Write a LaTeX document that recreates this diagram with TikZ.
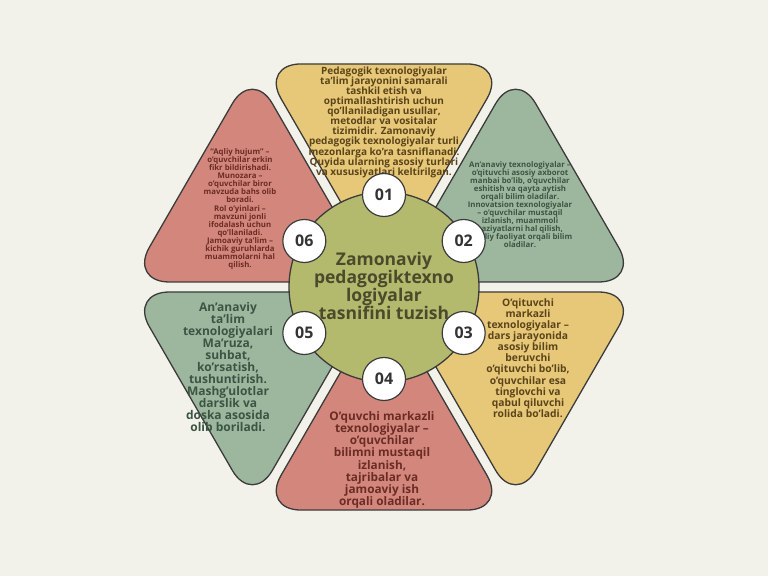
\documentclass[tikz,border=0pt]{standalone}
\usepackage{fontspec}
\setmainfont{Open Sans}
\usetikzlibrary{calc}
\definecolor{bg}{HTML}{F3F2EA}
\definecolor{cyel}{HTML}{E6C878}
\definecolor{cgrn}{HTML}{9DB79F}
\definecolor{cred}{HTML}{D3877C}
\definecolor{colv}{HTML}{B3B96D}
\definecolor{edge}{HTML}{3B3B3B}
\definecolor{tyel}{HTML}{5B4419}
\definecolor{tgrn}{HTML}{3C5443}
\definecolor{tred}{HTML}{6B2C24}
\definecolor{tolv}{HTML}{4A4B2B}
\definecolor{tnum}{HTML}{333333}
\begin{document}
\begin{tikzpicture}[x=1pt,y=1pt,
  tri/.style={draw=edge, line width=1.3pt, rounded corners=40pt, line join=round},
  numc/.style={circle, draw=edge, line width=1.2pt, fill=white, minimum size=43pt, inner sep=0pt, text=tnum, font=\bfseries\fontsize{16}{16}\selectfont},
  txt/.style={align=center, inner sep=0pt, font=\bfseries}]
\path[fill=bg] (0,0) rectangle (768,576);
\useasboundingbox (0,0) rectangle (768,576);
\coordinate (O) at (384,289);
% triangles: apex near centre, two outer vertices
\path[tri, fill=cyel] ($(O)+(90:10)$) -- ($(O)+(90:10)+(60:246)$) -- ($(O)+(90:10)+(120:246)$) -- cycle;
\path[tri, fill=cgrn] ($(O)+(30:10)$) -- ($(O)+(30:10)+(0:246)$) -- ($(O)+(30:10)+(60:246)$) -- cycle;
\path[tri, fill=cyel] ($(O)+(-30:10)$) -- ($(O)+(-30:10)+(-60:246)$) -- ($(O)+(-30:10)+(0:246)$) -- cycle;
\path[tri, fill=cred] ($(O)+(-90:10)$) -- ($(O)+(-90:10)+(-120:246)$) -- ($(O)+(-90:10)+(-60:246)$) -- cycle;
\path[tri, fill=cgrn] ($(O)+(210:10)$) -- ($(O)+(210:10)+(180:246)$) -- ($(O)+(210:10)+(240:246)$) -- cycle;
\path[tri, fill=cred] ($(O)+(150:10)$) -- ($(O)+(150:10)+(120:246)$) -- ($(O)+(150:10)+(180:246)$) -- cycle;
% texts
\node[txt, text=tyel, font=\bfseries\fontsize{10}{10}\selectfont] (t1) at (384,454) {Pedagogik texnologiyalar\\ta’lim jarayonini samarali\\tashkil etish va\\optimallashtirish uchun\\qo’llaniladigan usullar,\\metodlar va vositalar\\tizimidir. Zamonaviy\\pedagogik texnologiyalar turli\\mezonlarga ko’ra tasniflanadi.\\Quyida ularning asosiy turlari\\va xususiyatlari keltirilgan.};
\node[txt, text=tgrn, font=\bfseries\fontsize{7.8}{8}\selectfont] (t2) at (520,371) {An’anaviy texnologiyalar –\\o’qituvchi asosiy axborot\\manbai bo’lib, o’quvchilar\\eshitish va qayta aytish\\orqali bilim oladilar.\\Innovatsion texnologiyalar\\– o’quvchilar mustaqil\\izlanish, muammoli\\vaziyatlarni hal qilish,\\amaliy faoliyat orqali bilim\\oladilar.};
\node[txt, text=tyel, font=\bfseries\fontsize{10.3}{11.1}\selectfont] (t3) at (528,218) {O’qituvchi\\markazli\\texnologiyalar –\\dars jarayonida\\asosiy bilim\\beruvchi\\o’qituvchi bo’lib,\\o’quvchilar esa\\tinglovchi va\\qabul qiluvchi\\rolida bo’ladi.};
\node[txt, text=tred, font=\bfseries\fontsize{11.8}{12.2}\selectfont] (t4) at (382,116) {O’quvchi markazli\\texnologiyalar –\\o’quvchilar\\bilimni mustaqil\\izlanish,\\tajribalar va\\jamoaviy ish\\orqali oladilar.};
\node[txt, text=tgrn, font=\bfseries\fontsize{12}{12}\selectfont] (t5) at (228,209) {An’anaviy\\ta’lim\\texnologiyalari\\Ma’ruza,\\suhbat,\\ko’rsatish,\\tushuntirish.\\Mashg’ulotlar\\darslik va\\doska asosida\\olib boriladi.};
\node[txt, text=tred, font=\bfseries\fontsize{7.8}{8.07}\selectfont] (t6) at (240,367) {“Aqliy hujum” –\\o’quvchilar erkin\\fikr bildirishadi.\\Munozara –\\o’quvchilar biror\\mavzuda bahs olib\\boradi.\\Rol o’yinlari –\\mavzuni jonli\\ifodalash uchun\\qo’llaniladi.\\Jamoaviy ta’lim –\\kichik guruhlarda\\muammolarni hal\\qilish.};
% centre
\node[circle, draw=edge, line width=1.3pt, fill=colv, minimum size=190pt, inner sep=0pt] (ctr) at (O) {};
\node[numc] (n1) at ($(O)+(90:92)$) {01};
\node[numc] (n2) at ($(O)+(30:92)$) {02};
\node[numc] (n3) at ($(O)+(-30:92)$) {03};
\node[numc] (n4) at ($(O)+(-90:92)$) {04};
\node[numc] (n5) at ($(O)+(210:92)$) {05};
\node[numc] (n6) at ($(O)+(150:92)$) {06};
\node[txt, text=tolv, font=\bfseries\fontsize{17.5}{18}\selectfont] (ct) at (384,290) {Zamonaviy\\pedagogiktexno\\logiyalar\\tasnifini tuzish};
\end{tikzpicture}
\end{document}
